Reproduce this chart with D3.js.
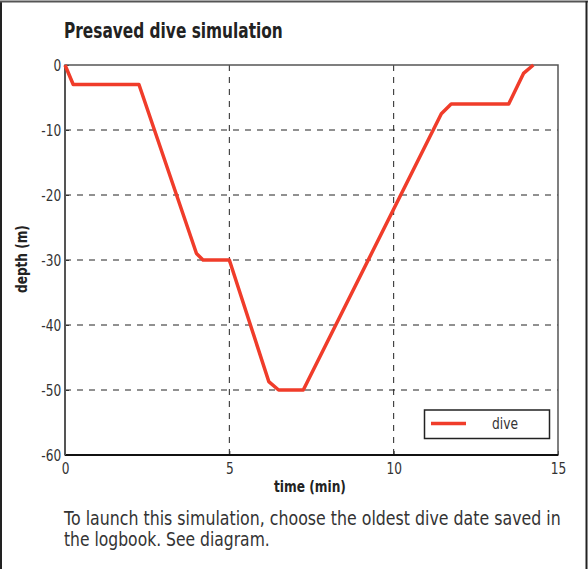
<!DOCTYPE html>
<html><head><meta charset="utf-8">
<script src="https://cdn.jsdelivr.net/npm/d3@7"></script>
<style>
body{margin:0;background:#fff;}
svg{display:block;}
text{font-family:"DejaVu Sans","Liberation Sans",sans-serif;}
</style></head><body>
<svg id="chart" width="588" height="569"></svg>
<script>
const timeValues = [0, 0.25, 2.25, 4.0, 4.2, 5.0, 6.2, 6.5, 7.25, 11.45, 11.75, 13.5, 13.95, 14.25];
const depthValues = [0, -3, -3, -29, -30, -30, -48.7, -50, -50, -7.5, -6, -6, -1.3, 0];
const xTicks = [0, 5, 10, 15];
const yTicks = [0, -10, -20, -30, -40, -50, -60];
const seriesName = "dive";
const titleText = "Presaved dive simulation";
const captionLines = ["To launch this simulation, choose the oldest dive date saved in", "the logbook. See diagram."];

const svg = d3.select("#chart");
const m = {left:65, right:558, top:65, bottom:455};
const x = d3.scaleLinear().domain([0,15]).range([m.left, m.right]);
const y = d3.scaleLinear().domain([-60,0]).range([m.bottom, m.top]);

// place text at (px,py) horizontally squeezed to width w (rotation optional)
function fitText(str, px, py, w, size, weight, fill, rot){
  const t = svg.append("text").attr("font-size",size).attr("font-weight",weight||"normal").attr("fill",fill).text(str);
  const nat = t.node().getComputedTextLength();
  const s = w / nat;
  t.attr("transform",`translate(${px},${py})${rot?` rotate(${rot})`:""} scale(${s},1)`);
  return t;
}

// outer frame
svg.append("line").attr("x1",1).attr("x2",1).attr("y1",1).attr("y2",569).attr("stroke","#222").attr("stroke-width",2);
svg.append("line").attr("x1",0).attr("x2",588).attr("y1",1.5).attr("y2",1.5).attr("stroke","#555").attr("stroke-width",2);
svg.append("line").attr("x1",586.5).attr("x2",586.5).attr("y1",1).attr("y2",569).attr("stroke","#222").attr("stroke-width",2);

fitText(titleText, 64, 38, 219, 21, "bold", "#222");

// grid
const grid = svg.append("g").attr("stroke","#222").attr("stroke-width",1).attr("stroke-dasharray","6,6");
xTicks.filter(t=>t>0&&t<15).forEach(t=>{
  grid.append("line").attr("x1",x(t)).attr("x2",x(t)).attr("y1",m.top).attr("y2",m.bottom);
});
yTicks.filter(t=>t<0&&t>-60).forEach(t=>{
  grid.append("line").attr("x1",m.left).attr("x2",m.right).attr("y1",y(t)).attr("y2",y(t));
});

// axes
const xAxis = d3.axisBottom(x).tickValues(xTicks).tickSize(-4).tickPadding(6).tickFormat(d3.format("d"));
const yAxis = d3.axisLeft(y).tickValues(yTicks).tickSize(-4).tickPadding(4).tickFormat(d=>d===0?"0":"-"+Math.abs(d));
const gx = svg.append("g").attr("transform",`translate(0,${m.bottom})`).call(xAxis);
const gy = svg.append("g").attr("transform",`translate(${m.left},0)`).call(yAxis);
[gx,gy].forEach(g=>{
  g.select(".domain").remove();
  g.selectAll(".tick line").attr("stroke","#333");
  g.selectAll("text").attr("font-size",16).attr("fill","#333").attr("font-family","'DejaVu Sans',sans-serif");
});
gx.selectAll("text").attr("x",0).attr("y",7).attr("dy","0.75em").attr("transform","scale(0.76,1)");
gy.selectAll("text").attr("x",-5).attr("transform","scale(0.76,1)");

// plot frame
svg.append("rect").attr("x",m.left).attr("y",m.top).attr("width",m.right-m.left).attr("height",m.bottom-m.top)
  .attr("fill","none").attr("stroke","#555").attr("stroke-width",1.5);
svg.append("line").attr("x1",m.left).attr("x2",m.right).attr("y1",m.bottom).attr("y2",m.bottom).attr("stroke","#111").attr("stroke-width",2);
svg.append("line").attr("x1",m.left).attr("x2",m.left).attr("y1",m.top).attr("y2",m.bottom).attr("stroke","#555").attr("stroke-width",2);

// line
const data = timeValues.map((t,i)=>({t, d:depthValues[i]}));
svg.append("path").datum(data)
  .attr("fill","none").attr("stroke","#f03c2a").attr("stroke-width",3.5).attr("stroke-linejoin","round")
  .attr("d", d3.line().x(d=>x(d.t)).y(d=>y(d.d)));

// axis labels
fitText("time (min)", 274, 492, 72, 15, "bold", "#222");
fitText("depth (m)", 27, 293, 68, 15, "bold", "#222", -90);

// legend
const lg = svg.append("g");
lg.append("rect").attr("x",424.5).attr("y",410).attr("width",125).attr("height",28.5).attr("fill","#fff").attr("stroke","#222").attr("stroke-width",1.5);
lg.append("line").attr("x1",431).attr("x2",466).attr("y1",423.5).attr("y2",423.5).attr("stroke","#f03c2a").attr("stroke-width",3.5);
fitText(seriesName, 492, 429, 26, 16, "normal", "#333");

// caption
const capLens = [497, 206];
captionLines.forEach((l,i)=>{
  fitText(l, 64, 525+i*21, capLens[i], 19, "normal", "#333");
});
</script>
</body></html>
